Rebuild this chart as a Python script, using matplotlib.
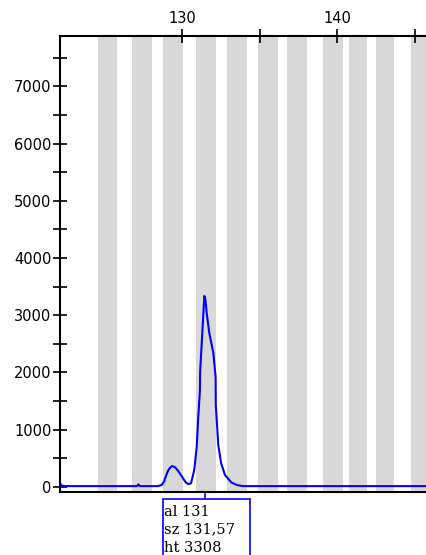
import matplotlib
matplotlib.use("Agg")
import matplotlib.pyplot as plt
import matplotlib.transforms as mtransforms

# allele bins (bp)
bin_start = [124.58, 126.77, 128.77, 130.90, 132.90, 134.90, 136.77, 139.10, 140.77, 142.52, 144.77]
bin_end = [125.81, 128.06, 130.06, 132.19, 134.19, 136.19, 138.06, 140.39, 141.94, 143.68, 146.00]

# trace: size (bp) vs height (rfu)
size = [122.13, 122.20, 122.26, 122.39, 127.10, 127.18, 127.29, 128.45, 128.69, 128.84,
        128.97, 129.10, 129.23, 129.37, 129.55, 129.74, 129.94, 130.13, 130.26, 130.41,
        130.58, 130.79, 130.95, 131.05, 131.16, 131.17, 131.31, 131.44, 131.48, 131.52,
        131.59, 131.76, 132.02, 132.17, 132.18, 132.34, 132.52, 132.77, 133.20, 133.55,
        133.91, 145.74]
height = [40, 40, 15, 10, 10, 40, 10, 10, 30, 90,
          190, 280, 330, 362, 340, 280, 200, 120, 70, 45,
          60, 290, 700, 1225, 1690, 2010, 2694, 3336, 3308, 3250,
          3044, 2689, 2344, 1910, 1430, 730, 415, 205, 70, 30,
          10, 10]

top_ticks = [130, 135, 140, 145]
top_labels = ['130', '', '140', '']
peak_label = ['al 131', 'sz 131,57', 'ht 3308']
peak_pos = 131.48

fig = plt.figure(figsize=(4.26, 5.55), dpi=100)
ax = fig.add_axes([60/426, 1-492/555, 1-60/426, (492-36)/555])

for a, b in zip(bin_start, bin_end):
    ax.axvspan(a, b, color='#d8d8d8', lw=0, zorder=0)

ax.plot(size, height, color='#0000ff', lw=1.5, zorder=3)

ax.set_xlim(122.13, 145.74)
ax.set_ylim(-93, 7883)

ax.xaxis.tick_top()
ax.set_xticks(top_ticks, labels=top_labels)
ax.set_yticks(range(0, 8000, 1000))
ax.set_yticks(range(500, 8000, 1000), minor=True)
ax.tick_params(axis='x', which='major', direction='inout', length=10, width=1.2,
               labelsize=10.5, pad=2)
ax.tick_params(axis='y', which='both', direction='inout', length=10, width=1.2,
               labelsize=10.5, pad=1)
for lab in ax.get_xticklabels() + ax.get_yticklabels():
    lab.set_family('DejaVu Sans')

ax.spines['right'].set_visible(False)
for s in ['left', 'top', 'bottom']:
    ax.spines[s].set_linewidth(1.5)

# peak label box below the axis
trans = mtransforms.blended_transform_factory(ax.transData, ax.transAxes)
ax.plot([peak_pos, peak_pos], [0, -7/456], color='#0000ff', lw=1.2,
        transform=trans, clip_on=False)
box = plt.Rectangle((128.77, -0.2), 134.39-128.77, 0.2-7/456, transform=trans,
                    fill=False, edgecolor='#0000ff', lw=1.2, clip_on=False)
ax.add_patch(box)
for i, t in enumerate(peak_label):
    ax.text(128.86, -(19.7 + 18*i)/456, t, transform=trans, ha='left', va='center',
            fontsize=10.5, family='DejaVu Serif', color='black')

fig.savefig('out.png', dpi=100)
